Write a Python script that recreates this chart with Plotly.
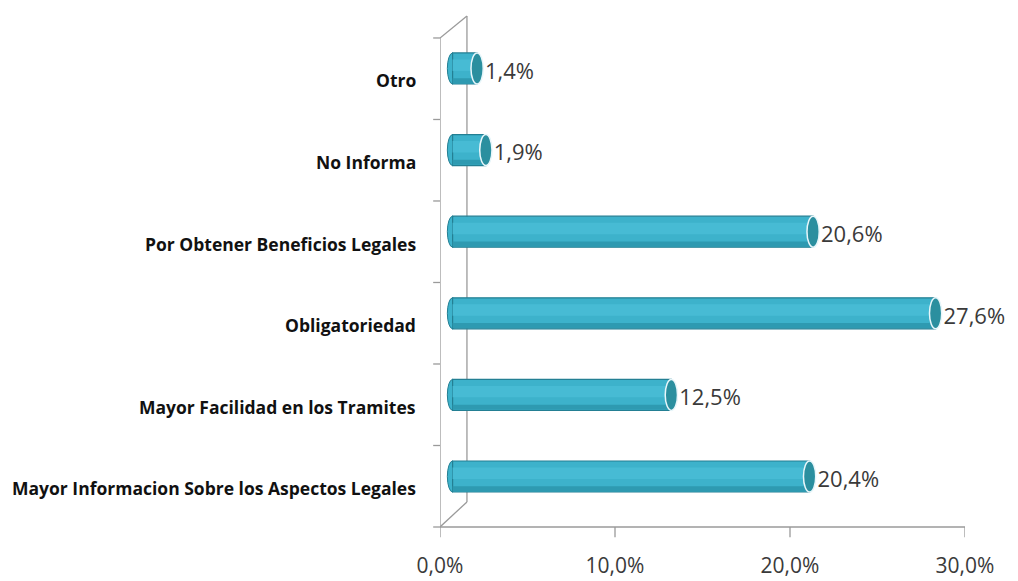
import plotly.graph_objects as go

categories = [
    "Mayor Informacion Sobre los Aspectos Legales",
    "Mayor Facilidad en los Tramites",
    "Obligatoriedad",
    "Por Obtener Beneficios Legales",
    "No Informa",
    "Otro",
]
values = [20.4, 12.5, 27.6, 20.6, 1.9, 1.4]
x_ticks = [0, 10, 20, 30]
x_tick_labels = ["0,0%", "10,0%", "20,0%", "30,0%"]

depth_shift = 0.72  # 3D depth offset of the bars from the front wall
back_x = 1.54       # x position of back wall (data units)
front_top = 0.957   # top of front wall (paper)
back_bottom = 0.049 # bottom of back wall (paper)
bar_w = 0.38
ypos = list(range(len(categories)))

fig = go.Figure()
# main cylinder body
fig.add_trace(go.Bar(
    y=ypos, x=values, base=depth_shift, orientation="h", width=bar_w,
    marker=dict(color="#3DB2CB", line=dict(color="#237F93", width=1.2)),
    hoverinfo="skip", showlegend=False,
))
# highlight stripe
fig.add_trace(go.Bar(
    y=[p + 0.04 for p in ypos], x=values, base=depth_shift, orientation="h", width=0.14,
    marker=dict(color="#47BBD4", line=dict(width=0)),
    hoverinfo="skip", showlegend=False,
))
# lower shade
fig.add_trace(go.Bar(
    y=[p - 0.15 for p in ypos], x=values, base=depth_shift, orientation="h", width=0.06,
    marker=dict(color="#2E9AB1", line=dict(width=0)),
    hoverinfo="skip", showlegend=False,
))
# value labels
fig.add_trace(go.Scatter(
    y=[p - 0.06 for p in ypos], x=[v + depth_shift + 0.45 for v in values], mode="text",
    text=[f"{v:.1f}%".replace(".", ",") for v in values], textposition="middle right",
    textfont=dict(family="Open Sans, Liberation Sans, sans-serif", size=22, color="#3A3A3A"),
    hoverinfo="skip", showlegend=False, cliponaxis=False,
))

shapes = []
# cylinder end caps and start caps
for p, v in zip(ypos, values):
    end = v + depth_shift
    shapes.append(dict(type="circle", xref="x", yref="y",
                       x0=end - 0.35, x1=end + 0.35, y0=p - bar_w / 2, y1=p + bar_w / 2,
                       fillcolor="#2B8F9F", line=dict(color="#E8F6FA", width=1.5), layer="above"))
    shapes.append(dict(type="circle", xref="x", yref="y",
                       x0=depth_shift - 0.3, x1=depth_shift + 0.3, y0=p - bar_w / 2, y1=p + bar_w / 2,
                       fillcolor="#3DB2CB", line=dict(color="#237F93", width=1), layer="below"))

wall = dict(color="#9A9A9A", width=1.3)
# 3D frame lines
shapes += [
    dict(type="line", xref="x", yref="paper", x0=0, x1=0, y0=0, y1=front_top, line=wall, layer="below"),
    dict(type="line", xref="x", yref="paper", x0=back_x, x1=back_x, y0=back_bottom, y1=1.0, line=wall, layer="below"),
    dict(type="line", xref="x", yref="paper", x0=0, x1=back_x, y0=front_top, y1=1.0, line=wall, layer="below"),
    dict(type="line", xref="x", yref="paper", x0=0, x1=back_x, y0=0.0, y1=back_bottom, line=wall, layer="below"),
    dict(type="line", xref="x", yref="paper", x0=0, x1=30, y0=0, y1=0, line=wall, layer="below"),
]
# small tick marks on the front wall between categories
n = len(categories)
for k in range(n + 1):
    yk = front_top * k / n
    shapes.append(dict(type="line", xref="paper", yref="paper", x0=-0.013, x1=0,
                       y0=yk, y1=yk, line=wall))
for t in x_ticks:
    shapes.append(dict(type="line", xref="x", yref="paper", x0=t, x1=t, y0=-0.02, y1=0,
                       line=wall))

# category labels (on the front plane, slightly below the bars)
annotations = [
    dict(xref="paper", yref="y", x=0, y=p, text=c, showarrow=False,
         xanchor="right", yanchor="middle", xshift=-22, yshift=-12,
         font=dict(family="Open Sans, sans-serif", size=17.5, color="#111111", weight="bold"))
    for p, c in zip(ypos, categories)
]

fig.update_layout(
    width=1010, height=573,
    margin=dict(l=432, r=53, t=8, b=54),
    paper_bgcolor="white", plot_bgcolor="white",
    barmode="overlay",
    shapes=shapes,
    annotations=annotations,
    xaxis=dict(range=[0, 30], tickvals=x_ticks, ticktext=x_tick_labels,
               showgrid=False, zeroline=False, showline=False, ticks="",
               ticklabelstandoff=24, automargin=False,
               tickfont=dict(family="Open Sans, Liberation Sans, sans-serif", size=21, color="#3A3A3A")),
    yaxis=dict(range=[-0.619, 5.643], tickvals=ypos, showticklabels=False,
               showgrid=False, zeroline=False, showline=False, ticks="",
               automargin=False),
)

fig.write_html("out.html")
